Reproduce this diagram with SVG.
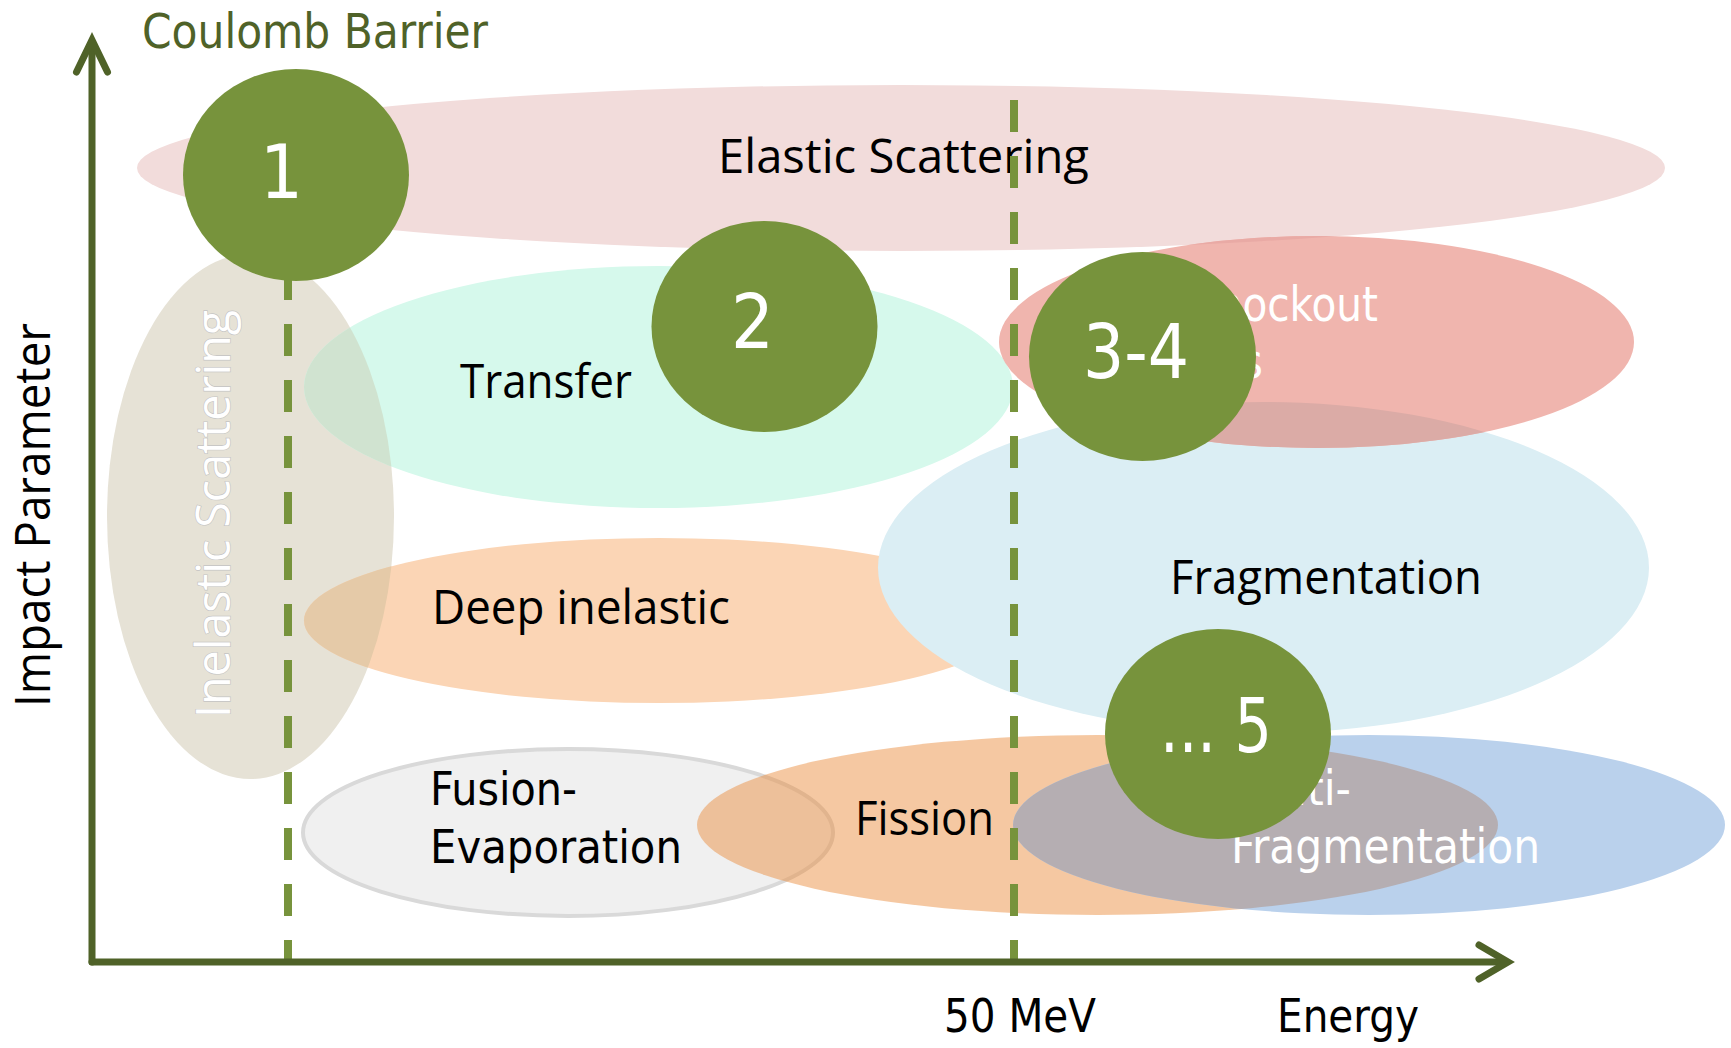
<svg xmlns="http://www.w3.org/2000/svg" width="1731" height="1048" viewBox="0 0 1731 1048">
  <style>
    .narrow { font-family: 'Liberation Sans Narrow', 'DejaVu Sans Condensed', 'Liberation Sans', sans-serif; }
    .human { font-family: 'Open Sans', 'Noto Sans', sans-serif; }
    .lbl { font-size: 47px; fill: #000000; }
    .lbl-w { font-size: 48px; fill: #ffffff; }
    .num { font-size: 75px; fill: #ffffff; text-anchor: middle; }
    .badge { fill: #77933c; }
    .guide { stroke: #77933c; stroke-width: 8; stroke-dasharray: 32 24; fill: none; }
    .axis { stroke: #4f6228; stroke-width: 7; fill: none; stroke-linecap: round; stroke-linejoin: miter; }
  </style>
  <defs>
    <clipPath id="clip-inelastic"><ellipse cx="250.5" cy="516.5" rx="143.5" ry="262.5"/></clipPath>
    <clipPath id="clip-knockout"><ellipse cx="1316.5" cy="342" rx="317.5" ry="106"/></clipPath>
    <clipPath id="clip-multi"><ellipse cx="1369" cy="825" rx="356" ry="90"/></clipPath>
  </defs>
  <rect width="1731" height="1048" fill="#ffffff"/>

  <!-- reaction regions -->
  <g id="elastic">
    <ellipse cx="901" cy="168" rx="764" ry="83" fill="#f2dcdb"/>
    <text class="human lbl" x="718" y="173" textLength="371" lengthAdjust="spacingAndGlyphs">Elastic Scattering</text>
  </g>
  <g id="inelastic">
    <ellipse cx="250.5" cy="516.5" rx="143.5" ry="262.5" fill="#e6e2d6"/>
    <text class="human" x="230" y="514" transform="rotate(-90 230 514)" font-size="47" text-anchor="middle" textLength="408" lengthAdjust="spacingAndGlyphs" fill="#ffffff" stroke="#c4c4c4" stroke-width="1.3" paint-order="stroke">Inelastic Scattering</text>
  </g>
  <g id="transfer">
    <ellipse cx="658.5" cy="387" rx="354.5" ry="121" fill="#d6f9ec"/>
    <ellipse cx="658.5" cy="387" rx="354.5" ry="121" fill="#d0e3d0" clip-path="url(#clip-inelastic)"/>
    <text class="human lbl" x="460" y="398" textLength="172" lengthAdjust="spacingAndGlyphs">Transfer</text>
  </g>
  <g id="deep-inelastic">
    <ellipse cx="659" cy="620.5" rx="355" ry="82.5" fill="#fbd5b5"/>
    <ellipse cx="659" cy="620.5" rx="355" ry="82.5" fill="#e5caa8" clip-path="url(#clip-inelastic)"/>
    <text class="human lbl" x="432" y="624" textLength="298" lengthAdjust="spacingAndGlyphs">Deep inelastic</text>
  </g>
  <g id="fusion-evaporation">
    <ellipse cx="568" cy="832.5" rx="265" ry="83.5" fill="#f0f0f0" stroke="#d9d9d9" stroke-width="4"/>
    <text class="narrow lbl" font-size="48" x="430" y="805" textLength="147" lengthAdjust="spacingAndGlyphs">Fusion-</text>
    <text class="narrow lbl" font-size="48" x="430" y="863" textLength="252" lengthAdjust="spacingAndGlyphs">Evaporation</text>
  </g>
  <g id="fragmentation">
    <ellipse cx="1263.5" cy="567.5" rx="385.5" ry="165.5" fill="#dbeef4"/>
    <text class="human lbl" x="1170" y="594" textLength="312" lengthAdjust="spacingAndGlyphs">Fragmentation</text>
  </g>
  <g id="knockout">
    <ellipse cx="1316.5" cy="342" rx="317.5" ry="106" fill="#f0b5ae"/>
    <ellipse cx="901" cy="168" rx="764" ry="83" fill="#e9aaa5" clip-path="url(#clip-knockout)"/>
    <ellipse cx="1263.5" cy="567.5" rx="385.5" ry="165.5" fill="#dbaba6" clip-path="url(#clip-knockout)"/>
    <text class="narrow lbl-w" x="1378" y="321" text-anchor="end" textLength="188" lengthAdjust="spacingAndGlyphs">Knockout</text>
    <text class="narrow lbl-w" x="1263" y="378" text-anchor="end">Reactions</text>
  </g>
  <g id="fission">
    <ellipse cx="1097.5" cy="825" rx="400.5" ry="90" fill="#e98a3a" fill-opacity="0.47"/>
    <text class="human lbl" x="855" y="835" textLength="139" lengthAdjust="spacingAndGlyphs">Fission</text>
  </g>
  <g id="multi-fragmentation">
    <ellipse cx="1369" cy="825" rx="356" ry="90" fill="#bad1ec"/>
    <ellipse cx="1097.5" cy="825" rx="400.5" ry="90" fill="#b5aeb2" clip-path="url(#clip-multi)"/>
    <text class="narrow lbl-w" x="1231" y="805" textLength="120" lengthAdjust="spacingAndGlyphs">Multi-</text>
    <text class="narrow lbl-w" x="1231" y="863" textLength="309" lengthAdjust="spacingAndGlyphs">Fragmentation</text>
  </g>

  <!-- axes and threshold guides -->
  <g id="connectors">
    <line class="guide" x1="288" y1="100" x2="288" y2="962"/>
    <line class="guide" x1="1014" y1="100" x2="1014" y2="962"/>
    <path class="axis" d="M92 962 V42"/>
    <path class="axis" d="M76.5 72 L92 40 L107.5 72"/>
    <path class="axis" d="M92 962 H1506"/>
    <path class="axis" d="M1479 945 L1508 962 L1479 979"/>
  </g>

  <g id="axis-labels">
    <text class="narrow" x="142" y="48" font-size="48" fill="#4f6228" textLength="346" lengthAdjust="spacingAndGlyphs">Coulomb Barrier</text>
    <text class="human" x="50" y="515" transform="rotate(-90 50 515)" font-size="49" text-anchor="middle" textLength="384" lengthAdjust="spacingAndGlyphs" fill="#000000">Impact Parameter</text>
    <text class="narrow" x="944" y="1032" font-size="47" textLength="152" lengthAdjust="spacingAndGlyphs" fill="#000000">50 MeV</text>
    <text class="narrow" x="1277" y="1032" font-size="47" textLength="142" lengthAdjust="spacingAndGlyphs" fill="#000000">Energy</text>
  </g>

  <!-- numbered markers -->
  <g id="marker-1">
    <ellipse class="badge" cx="296" cy="175" rx="113" ry="106"/>
    <text class="narrow num" x="281.5" y="198">1</text>
  </g>
  <g id="marker-2">
    <ellipse class="badge" cx="764.5" cy="326.5" rx="113" ry="105.5"/>
    <text class="narrow num" x="752.5" y="348">2</text>
  </g>
  <g id="marker-3-4">
    <ellipse class="badge" cx="1142.5" cy="356.5" rx="113.5" ry="104.5"/>
    <text class="narrow num" x="1136" y="378" textLength="106" lengthAdjust="spacingAndGlyphs">3-4</text>
  </g>
  <g id="marker-5">
    <ellipse class="badge" cx="1218" cy="734" rx="113" ry="105"/>
    <text class="narrow num" x="1216" y="752" textLength="112" lengthAdjust="spacingAndGlyphs">... 5</text>
  </g>
</svg>
